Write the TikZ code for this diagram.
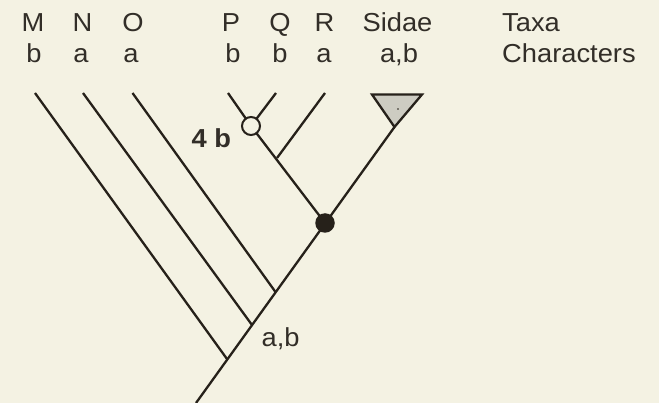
\documentclass[tikz,border=0pt]{standalone}
\usepackage{fontspec}
\setmainfont[FakeStretch=1.05]{Liberation Sans}
\definecolor{bg}{RGB}{244,242,227}
\definecolor{ink}{RGB}{38,33,26}
\definecolor{txt}{RGB}{50,46,40}
\definecolor{tri}{RGB}{205,204,194}
\begin{document}
\begin{tikzpicture}[x=1pt,y=-1pt,
  branch/.style={draw=ink,line width=2.3pt},
  lbl/.style={anchor=base,inner sep=0pt,text=txt,font=\fontsize{26}{31}\selectfont},
  lblw/.style={anchor=base west,inner sep=0pt,text=txt,font=\fontsize{26}{31}\selectfont}]
\fill[bg] (0,0) rectangle (659,403);
\useasboundingbox (0,0) rectangle (659,403);
% header labels
\node[lbl] (tM) at (33,31.7) {M};
\node[lbl] (tN) at (82.5,31.7) {N};
\node[lbl] (tO) at (133,31.7) {O};
\node[lbl] (tP) at (231,31.7) {P};
\node[lbl] (tQ) at (280,31.7) {Q};
\node[lbl] (tR) at (324.5,31.7) {R};
\node[lbl] (tS) at (397.5,31.7) {Sidae};
\node[lblw] (tTaxa) at (502,31.7) {Taxa};
\node[lbl] (cM) at (34,63) {b};
\node[lbl] (cN) at (81,63) {a};
\node[lbl] (cO) at (131,63) {a};
\node[lbl] (cP) at (233,63) {b};
\node[lbl] (cQ) at (280,63) {b};
\node[lbl] (cR) at (324,63) {a};
\node[lbl] (cS) at (399,63) {a,b};
\node[lblw] (tChar) at (502,63) {Characters};
% tree coordinates
\coordinate (root) at (196,403);
\coordinate (jM) at (227,359);
\coordinate (jN) at (252,325);
\coordinate (jO) at (275.5,292);
\coordinate (jS) at (325,223);
\coordinate (apex) at (394.5,127);
\coordinate (leafM) at (35,93);
\coordinate (leafN) at (83,93);
\coordinate (leafO) at (132.5,93);
\coordinate (leafP) at (228,93);
\coordinate (leafQ) at (276,93);
\coordinate (leafR) at (325,93);
\coordinate (jR) at (277,158);
\coordinate (oc) at (251,126);
% branches
\draw[branch] (root) -- (apex);
\draw[branch] (leafM) -- (jM);
\draw[branch] (leafN) -- (jN);
\draw[branch] (leafO) -- (jO);
\draw[branch] (jS) -- (oc);
\draw[branch] (leafR) -- (jR);
\draw[branch] (leafP) -- (oc);
\draw[branch] (leafQ) -- (oc);
% Sidae triangle
\coordinate (triL) at (372,94.5);
\coordinate (triR) at (422,94.5);
\draw[draw=ink,fill=tri,line width=2.3pt,line join=miter] (triL) -- (triR) -- (apex) -- cycle;
\fill[ink] (398,109) circle (0.9pt);
% nodes on branches
\node[circle,draw=ink,fill=bg,line width=2pt,minimum size=18pt,inner sep=0pt] (open) at (oc) {};
\node[circle,fill=ink,minimum size=19.5pt,inner sep=0pt] (dot) at (jS) {};
% character labels on tree
\node[anchor=base west,inner sep=0pt,text=txt,font=\fontsize{26}{31}\selectfont\bfseries] (l4b) at (191.5,148) {4 b};
\node[lblw] (lab) at (261.5,346.7) {a,b};
\end{tikzpicture}
\end{document}
